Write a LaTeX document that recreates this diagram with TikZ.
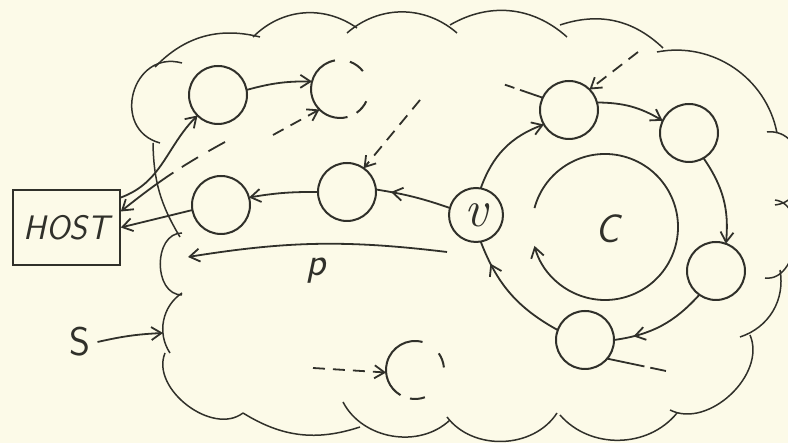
\documentclass[tikz,border=0pt]{standalone}
\usepackage{fontspec}
\usetikzlibrary{arrows.meta,decorations.markings}
\definecolor{paper}{RGB}{252,250,232}
\definecolor{ink}{RGB}{48,48,42}
\tikzset{
  graph node/.style={circle,draw=ink,line width=1pt,minimum size=29pt,inner sep=0pt,outer sep=0pt},
  open node/.style={circle,minimum size=29pt,inner sep=0pt,outer sep=0pt},
  host box/.style={draw=ink,line width=0.8pt,minimum width=53.5pt,minimum height=37.5pt,inner sep=0pt,
    font=\fontsize{17}{20}\selectfont\sffamily\itshape,text=ink},
  graph edge/.style={draw=ink,line width=0.9pt},
  graph tip/.style={-{Straight Barb[length=5pt,width=6.5pt]}},
  near tip/.style={postaction={decorate},decoration={markings,
    mark=at position #1 with {\arrow{Straight Barb[length=5pt,width=6.5pt]}}}},
  dashed edge/.style={dash pattern=on 6pt off 4pt},
  cloud line/.style={draw=ink,line width=0.75pt},
  label text/.style={font=\fontsize{20}{24}\selectfont\sffamily\itshape,text=ink}
}

\begin{document}
\begin{tikzpicture}[x=0.5pt,y=0.5pt]
  \fill[paper] (0,0) rectangle (788,443);
  \useasboundingbox (0,0) rectangle (788,443);

  % the cloud S
  \foreach \xa/\ya/\xb/\yb/\b/\l in {160/300/182/380/90/1.6, 155/376/260/406/30/1,
      253/406/357/415/40/1, 347/410/457/410/41/1, 450/418/567/406/36/1,
      560/418/663/395/31/1, 657/391/777/310/45/1, 767/311/775/238/90/1.4,
      775/243/765/165/90/1.1, 780/173/740/106/41/1, 750/108/670/33/70/1,
      677/30/560/28/50/1, 557/30/447/26/55/1, 450/23/343/41/53/1,
      360/16/243/30/25/1, 243/30/165/90/75/1, 170/90/182/150/45/1,
      182/148/182/210/90/1.2, 180/206/153/300/15/1}
    \draw[cloud line] (\xa,\ya) to[bend left=\b,looseness=\l] (\xb,\yb);

  % nodes
  \node[host box] (host) at (66.5,215.5) {HOST};
  \node[graph node] (A) at (218,348) {};
  \node[open node] (B) at (340,354) {};
  \node[graph node] (D) at (221,238) {};
  \node[graph node] (E) at (347,251) {};
  \node[graph node,minimum size=27pt,font=\fontsize{26}{28}\selectfont\itshape,text=ink] (v) at (476,228) {v};
  \node[graph node] (F) at (569,333) {};
  \node[graph node] (G) at (689,310) {};
  \node[graph node] (H) at (716,172) {};
  \node[graph node] (I) at (585,103) {};
  \node[open node] (J) at (415,73) {};
  \coordinate (cyc) at (605,216);
  \node[label text] (clab) at (608,214) {C};
  \node[label text] (plab) at (316,172) {p};
  \node[label text,font=\fontsize{20}{24}\selectfont\sffamily] (slab) at (80,101) {S};

  % partly drawn vertices
  \draw[graph edge,line width=1pt] (B.100) arc[start angle=100,end angle=285,radius=14.5pt];
  \draw[graph edge,line width=1pt] (B.38) arc[start angle=38,end angle=70,radius=14.5pt];
  \draw[graph edge,line width=1pt] (B.-55) arc[start angle=-55,end angle=-25,radius=14.5pt];
  \draw[graph edge,line width=1pt] (J.75) arc[start angle=75,end angle=240,radius=14.5pt];
  \draw[graph edge,line width=1pt] (J.5) arc[start angle=5,end angle=35,radius=14.5pt];
  \draw[graph edge,line width=1pt] (J.-100) arc[start angle=-100,end angle=-70,radius=14.5pt];

  % the cycle C
  \draw[graph edge,graph tip] ([shift={(165:73)}]cyc) arc[start angle=165,end angle=-165,radius=73];
  \draw[graph edge,graph tip] (v.80) to[bend left=25] (F.210);
  \draw[graph edge,graph tip] (F.15) to[bend left=15] (G.155);
  \draw[graph edge,graph tip] (G.-60) to[bend left=20] (H.70);
  \draw[graph edge,near tip=0.8] (H.235) to[bend left=20] (I.0);
  \draw[graph edge,near tip=0.8] (I.160) to[bend left=20] (v.-80);

  % path p back to the host
  \draw[graph edge,near tip=0.8] (v.165) to[bend right=5] (E.5);
  \draw[graph edge,graph tip] (E.180) to[bend right=5] (D.15);
  \draw[graph edge,graph tip] (D.190) -- (host.east);
  \coordinate (pstart) at (447,191);
  \coordinate (pend) at (188,186);
  \draw[graph edge,graph tip] (pstart) to[bend right=8] (pend);

  % host to the cloud
  \draw[graph edge,graph tip] ([yshift=15pt]host.east) to[out=20,in=225] (A.225);
  \draw[graph edge,graph tip] (A.10) to[bend left=8] (B.165);
  \coordinate (hd) at (225,301);
  \draw[graph edge,graph tip,dash pattern=on 9.5pt off 6pt on 9.5pt off 5pt on 60pt] (hd) to[bend right=5] ([yshift=8pt]host.east);

  % dashed edges from the rest of the graph
  \coordinate (bin) at (273,308);
  \coordinate (ein) at (420,343);
  \coordinate (fout) at (500,360);
  \coordinate (fin) at (638,391);
  \coordinate (iout) at (666,72);
  \coordinate (jin) at (313,75);
  \draw[graph edge,dashed edge,graph tip] (bin) -- (B.225);
  \draw[graph edge,dashed edge,graph tip] (ein) -- (E.55);
  \draw[graph edge,dash pattern=on 12pt off 3pt on 5pt] (F.155) -- (fout);
  \draw[graph edge,dashed edge,graph tip] (fin) -- (F.45);
  \draw[graph edge,dash pattern=on 19pt off 3pt on 8pt] (I.-40) -- (iout);
  \draw[graph edge,dashed edge,graph tip] (jin) -- (J.185);

  % S
  \coordinate (sto) at (163,110);
  \draw[graph edge,graph tip] (slab.east) to[bend left=5] (sto);
\end{tikzpicture}
\end{document}
